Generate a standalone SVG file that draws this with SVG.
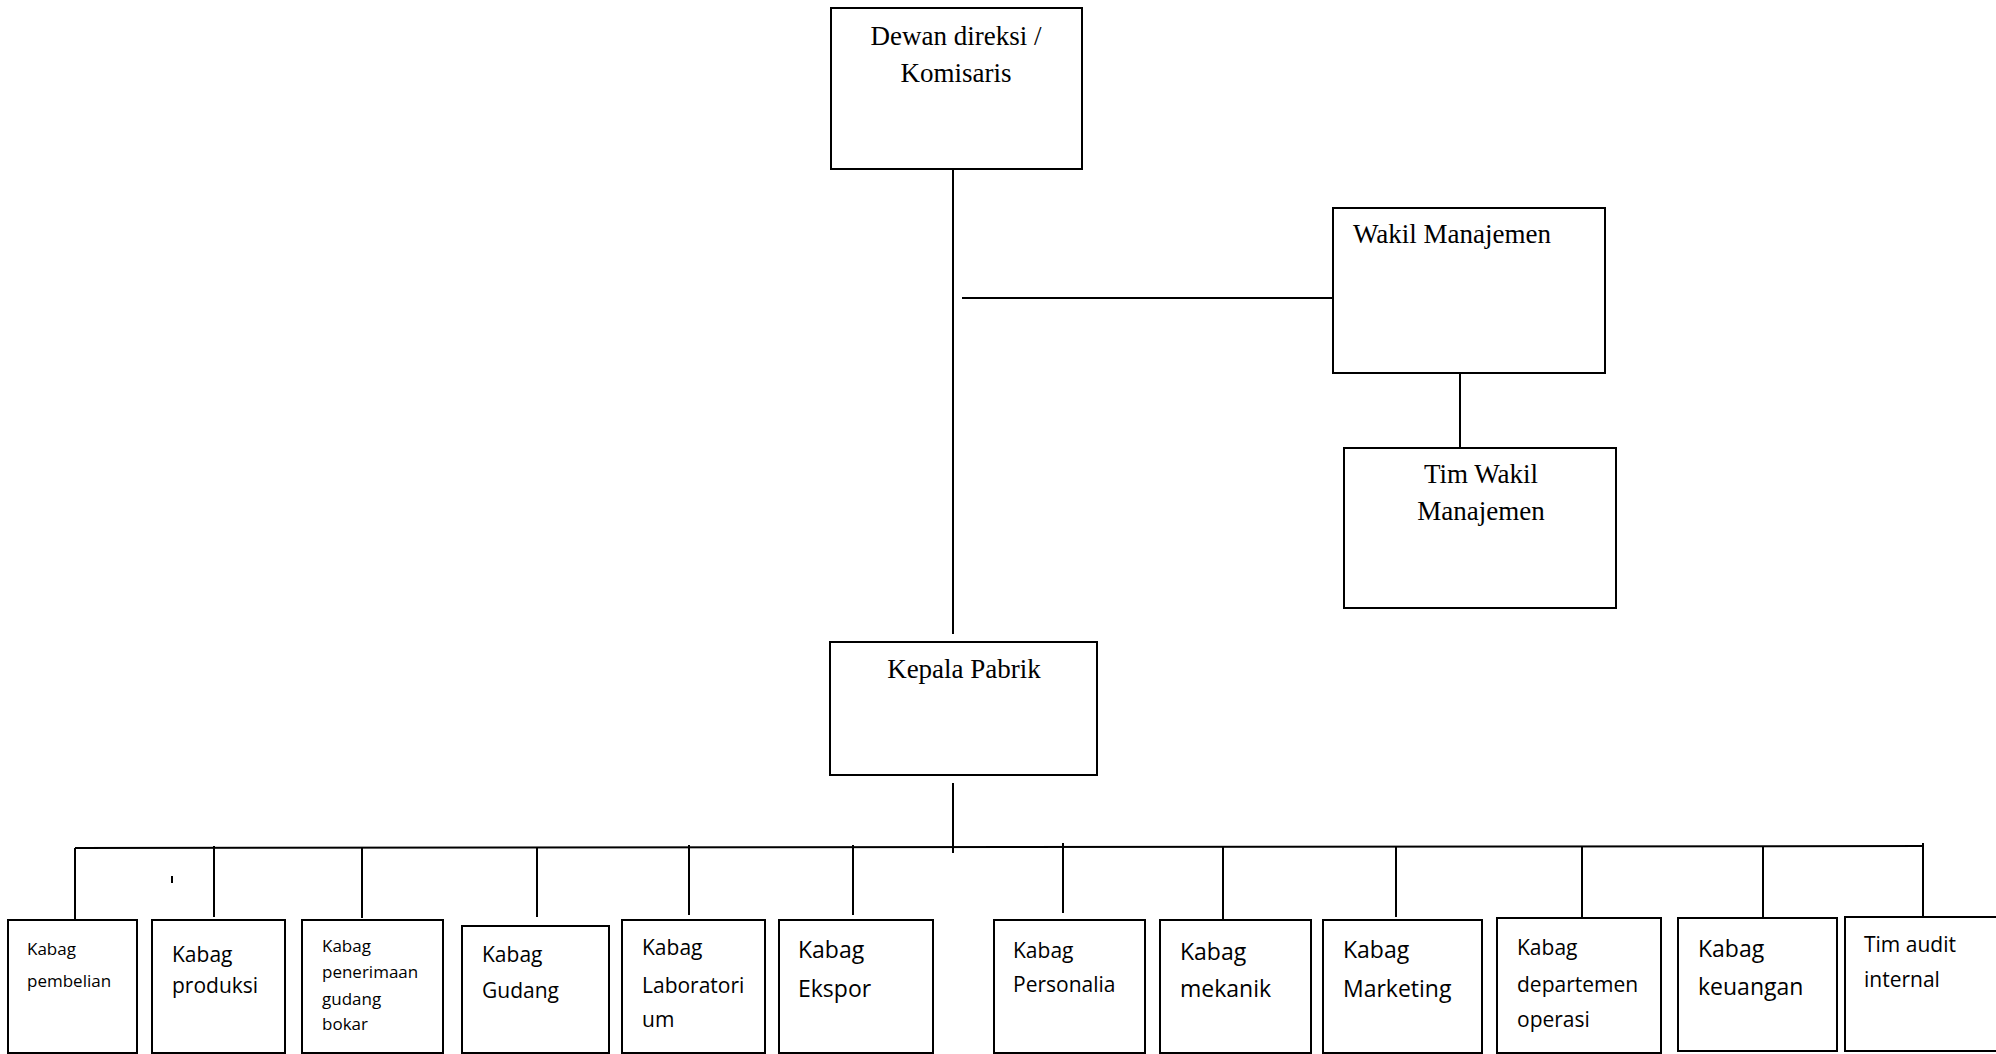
<svg xmlns="http://www.w3.org/2000/svg" width="1996" height="1054" viewBox="0 0 1996 1054">
<style>
.box{fill:#fff;stroke:#000;stroke-width:2}
.ln{stroke:#000;stroke-width:2;fill:none}
.serif{font-family:"Liberation Serif","Times New Roman",serif;font-size:27px;fill:#000}
.sans{font-family:"Open Sans","Liberation Sans",sans-serif;fill:#000}
.s17{font-size:17px}
.s21{font-size:21px}
.s23{font-size:23px}
</style>
<rect width="1996" height="1054" fill="#fff"/>
<g id="connectors">
<line class="ln" x1="953" y1="169" x2="953" y2="634"/>
<line class="ln" x1="962" y1="298" x2="1333" y2="298"/>
<line class="ln" x1="1460" y1="373" x2="1460" y2="448"/>
<line class="ln" x1="953" y1="783" x2="953" y2="853"/>
<line class="ln" x1="75" y1="848" x2="1923" y2="846"/>
<line class="ln" x1="75" y1="848" x2="75" y2="920"/>
<line class="ln" x1="214" y1="846" x2="214" y2="917"/>
<line class="ln" x1="362" y1="848" x2="362" y2="918"/>
<line class="ln" x1="537" y1="847" x2="537" y2="917"/>
<line class="ln" x1="689" y1="845" x2="689" y2="915"/>
<line class="ln" x1="853" y1="845" x2="853" y2="915"/>
<line class="ln" x1="1063" y1="843" x2="1063" y2="913"/>
<line class="ln" x1="1223" y1="847" x2="1223" y2="919"/>
<line class="ln" x1="1396" y1="846" x2="1396" y2="917"/>
<line class="ln" x1="1582" y1="846" x2="1582" y2="917"/>
<line class="ln" x1="1763" y1="846" x2="1763" y2="917"/>
<line class="ln" x1="1923" y1="843" x2="1923" y2="916"/>
<line class="ln" x1="172" y1="876" x2="172" y2="883"/>
</g>
<g id="dewan">
<rect class="box" x="831" y="8" width="251" height="161"/>
<text class="serif" x="956" y="45" text-anchor="middle">Dewan direksi /</text>
<text class="serif" x="956" y="82" text-anchor="middle">Komisaris</text>
</g>
<g id="wakil">
<rect class="box" x="1333" y="208" width="272" height="165"/>
<text class="serif" x="1353" y="243">Wakil Manajemen</text>
</g>
<g id="timwakil">
<rect class="box" x="1344" y="448" width="272" height="160"/>
<text class="serif" x="1481" y="483" text-anchor="middle">Tim Wakil</text>
<text class="serif" x="1481" y="520" text-anchor="middle">Manajemen</text>
</g>
<g id="kepala">
<rect class="box" x="830" y="642" width="267" height="133"/>
<text class="serif" x="964" y="678" text-anchor="middle">Kepala Pabrik</text>
</g>
<g id="pembelian">
<rect class="box" x="8" y="920" width="129" height="133"/>
<text class="sans s17" x="27" y="955">Kabag</text>
<text class="sans s17" x="27" y="987">pembelian</text>
</g>
<g id="produksi">
<rect class="box" x="152" y="920" width="133" height="133"/>
<text class="sans s21" x="172" y="962">Kabag</text>
<text class="sans s21" x="172" y="993">produksi</text>
</g>
<g id="penerimaan">
<rect class="box" x="302" y="920" width="141" height="133"/>
<text class="sans s17" x="322" y="952">Kabag</text>
<text class="sans s17" x="322" y="978">penerimaan</text>
<text class="sans s17" x="322" y="1005">gudang</text>
<text class="sans s17" x="322" y="1030">bokar</text>
</g>
<g id="gudang">
<rect class="box" x="462" y="926" width="147" height="127"/>
<text class="sans s21" x="482" y="962">Kabag</text>
<text class="sans s21" x="482" y="998">Gudang</text>
</g>
<g id="laboratorium">
<rect class="box" x="622" y="920" width="143" height="133"/>
<text class="sans s21" x="642" y="955">Kabag</text>
<text class="sans s21" x="642" y="993">Laboratori</text>
<text class="sans s21" x="642" y="1027">um</text>
</g>
<g id="ekspor">
<rect class="box" x="779" y="920" width="154" height="133"/>
<text class="sans s23" x="798" y="958">Kabag</text>
<text class="sans s23" x="798" y="997">Ekspor</text>
</g>
<g id="personalia">
<rect class="box" x="994" y="920" width="151" height="133"/>
<text class="sans s21" x="1013" y="958">Kabag</text>
<text class="sans s21" x="1013" y="992">Personalia</text>
</g>
<g id="mekanik">
<rect class="box" x="1160" y="920" width="151" height="133"/>
<text class="sans s23" x="1180" y="960">Kabag</text>
<text class="sans s23" x="1180" y="997">mekanik</text>
</g>
<g id="marketing">
<rect class="box" x="1323" y="920" width="159" height="133"/>
<text class="sans s23" x="1343" y="958">Kabag</text>
<text class="sans s23" x="1343" y="997">Marketing</text>
</g>
<g id="departemen">
<rect class="box" x="1497" y="918" width="164" height="135"/>
<text class="sans s21" x="1517" y="955">Kabag</text>
<text class="sans s21" x="1517" y="992">departemen</text>
<text class="sans s21" x="1517" y="1027">operasi</text>
</g>
<g id="keuangan">
<rect class="box" x="1678" y="918" width="159" height="133"/>
<text class="sans s23" x="1698" y="957">Kabag</text>
<text class="sans s23" x="1698" y="995">keuangan</text>
</g>
<g id="audit">
<rect class="box" x="1845" y="917" width="160" height="134"/>
<text class="sans s21" x="1864" y="952">Tim audit</text>
<text class="sans s21" x="1864" y="987">internal</text>
</g>
</svg>
